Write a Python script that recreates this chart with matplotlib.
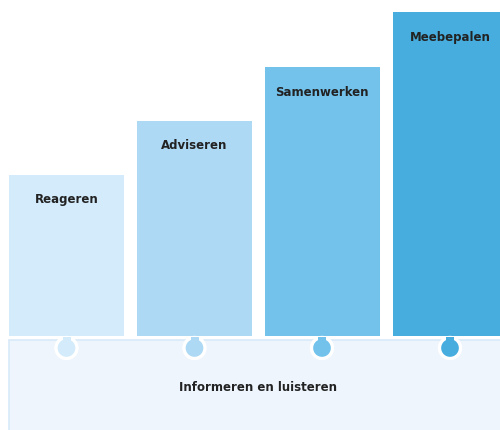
import matplotlib.pyplot as plt
from matplotlib.patches import Rectangle, Circle

# participation ladder steps
steps = ["Reageren", "Adviseren", "Samenwerken", "Meebepalen"]
heights = [161, 215, 269, 324]
colors = ["#D3EBFB", "#AED9F5", "#72C2EC", "#46ADDE"]
base_label = "Informeren en luisteren"

fig = plt.figure(figsize=(5, 4.31), dpi=100)
ax = fig.add_axes([0, 0, 1, 1])
ax.set_xlim(0, 500)
ax.set_ylim(431, 0)
ax.axis("off")

bottom = 337
centers = [66.5, 194.5, 322, 450]
width = 115

# base block
ax.add_patch(Rectangle((9, 341), 500, 100, facecolor="#EEF5FD",
                       edgecolor="#D8EAF8", linewidth=1.2, zorder=1))
ax.text(258, 388, base_label, ha="center", va="center",
        fontsize=8.5, fontweight="bold", color="#222222", zorder=5)

ax.bar(centers, [-h for h in heights], bottom=bottom, width=width,
       color=colors, edgecolor="none", zorder=2)

for x, h, c, name in zip(centers, heights, colors, steps):
    # puzzle knob
    ax.add_patch(Circle((x, 349), 10.5, facecolor=c, edgecolor="white",
                        linewidth=2.4, zorder=3))
    ax.add_patch(Rectangle((x - 4, 338), 8, 6, facecolor=c,
                           edgecolor="none", zorder=3))
    ax.text(x, bottom - h + 24, name, ha="center", va="center",
            fontsize=8.5, fontweight="bold", color="#222222", zorder=5)

fig.savefig("out.png", dpi=100)
